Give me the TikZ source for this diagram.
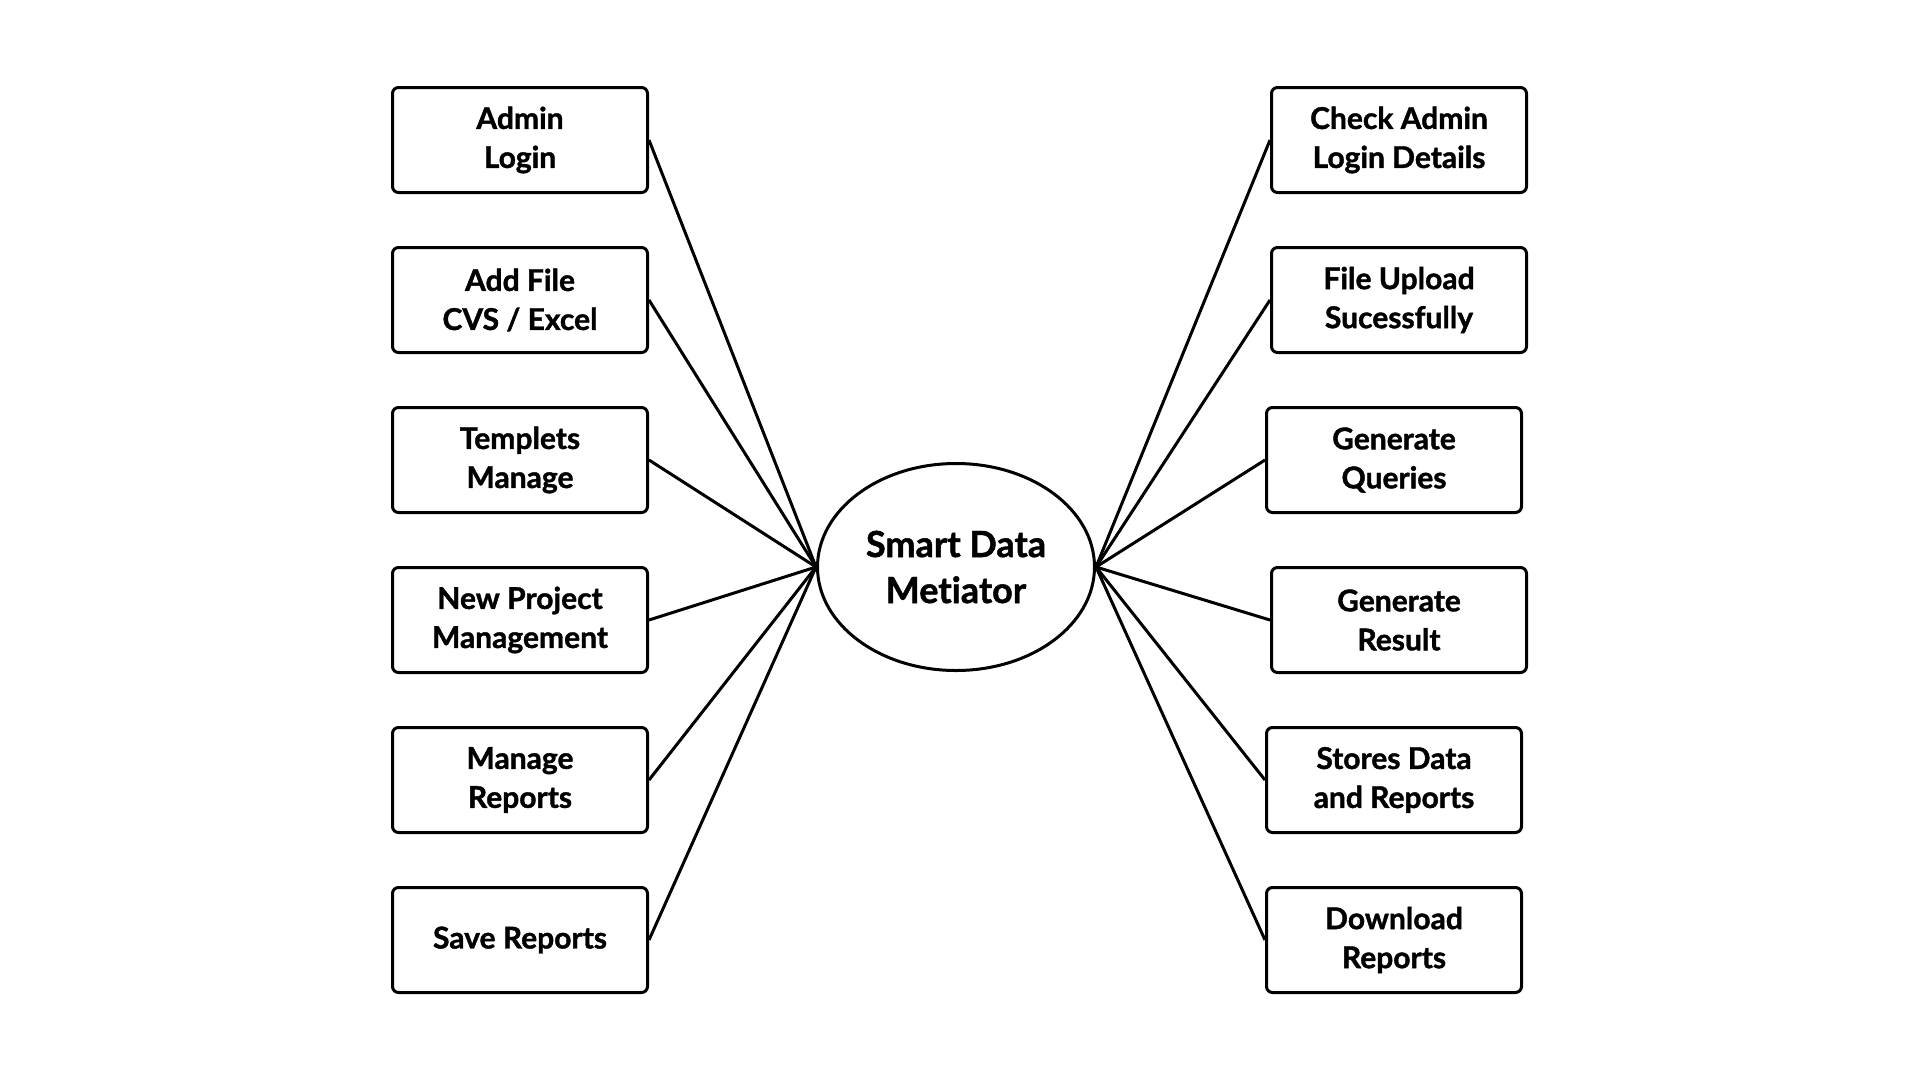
\documentclass[tikz,border=0pt]{standalone}
\usepackage{fontspec}
\setmainfont{Lato}[Ligatures=NoCommon, BoldFeatures={FakeBold=1.3}]
\usetikzlibrary{shapes.geometric}

\tikzset{every picture/.style={line width=3pt}}
\tikzset{
  taskbox/.style={draw, rounded corners=6pt, minimum width=255pt, minimum height=105pt, inner sep=0pt, align=center, font=\fontsize{30}{39}\selectfont\bfseries},
  hub/.style={draw, ellipse, minimum width=277pt, minimum height=207pt, inner sep=0pt, align=center, font=\fontsize{36}{46}\selectfont\bfseries},
  link/.style={draw, line width=3pt}
}

\begin{document}
\begin{tikzpicture}[x=1pt,y=1pt,yscale=-1,xscale=1]
\useasboundingbox (0,0) rectangle (1920,1080);

%Ellipse [id:centre]
\node [hub] (mediator) at (956,567) {Smart Data\\Metiator};

%Shape: Rectangle [left column]
\node [taskbox] (adminlogin) at (520,140) {Admin\\Login};
\node [taskbox] (addfile) at (520,300) {Add File\\CVS / Excel};
\node [taskbox] (templets) at (520,460) {Templets\\Manage};
\node [taskbox] (newproject) at (520,620) {New Project\\Management};
\node [taskbox] (managereports) at (520,780) {Manage\\Reports};
\node [taskbox] (savereports) at (520,940) {Save Reports};

%Shape: Rectangle [right column]
\node [taskbox] (checkadmin) at (1399,140) {Check Admin\\Login Details};
\node [taskbox] (fileupload) at (1399,300) {File Upload\\Sucessfully};
\node [taskbox] (genqueries) at (1394,460) {Generate\\Queries};
\node [taskbox] (genresult) at (1399,620) {Generate\\Result};
\node [taskbox] (storesdata) at (1394,780) {Stores Data\\and Reports};
\node [taskbox] (download) at (1394,940) {Download\\Reports};

%Straight Lines [left]
\draw [link] (adminlogin.east) -- (mediator.west);
\draw [link] (addfile.east) -- (mediator.west);
\draw [link] (templets.east) -- (mediator.west);
\draw [link] (newproject.east) -- (mediator.west);
\draw [link] (managereports.east) -- (mediator.west);
\draw [link] (savereports.east) -- (mediator.west);

%Straight Lines [right]
\draw [link] (checkadmin.west) -- (mediator.east);
\draw [link] (fileupload.west) -- (mediator.east);
\draw [link] (genqueries.west) -- (mediator.east);
\draw [link] (genresult.west) -- (mediator.east);
\draw [link] (storesdata.west) -- (mediator.east);
\draw [link] (download.west) -- (mediator.east);

\end{tikzpicture}
\end{document}
